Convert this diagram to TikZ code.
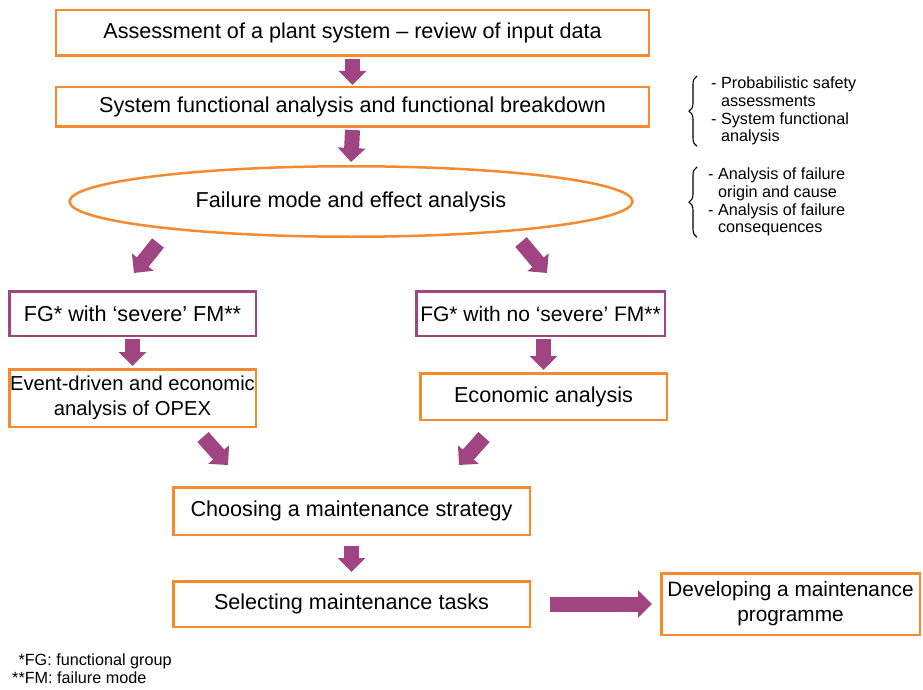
\documentclass[tikz,border=0pt]{standalone}
\usepackage{fontspec}
\setmainfont{Liberation Sans}
\usetikzlibrary{arrows.meta,positioning,shapes.geometric,decorations.pathreplacing}
\definecolor{boxorange}{RGB}{245,138,46}
\definecolor{arrowpurple}{RGB}{161,68,130}

\begin{document}
\begin{tikzpicture}[x=1pt,y=-1pt,
	every node/.style={font=\fontsize{21.6}{25}\selectfont, inner sep=0pt},
	obox/.style={draw=boxorange, line width=2.5pt, align=center},
	pbox/.style={draw=arrowpurple, line width=2.5pt, align=center},
	blk/.style={draw=arrowpurple, line width=15pt, -{Triangle[length=14pt,width=27pt]}},
	note/.style={font=\fontsize{16.2}{17.6}\selectfont, align=left, anchor=north west},
	brc/.style={decorate, decoration={brace, amplitude=8pt}, line width=1.1pt}]
	\useasboundingbox (0,0) rectangle (923,690);
	% main column
	\node[obox, minimum width=593pt, minimum height=45.5pt] (assess) at (352.5,33) {Assessment of a plant system -- review of input data};
	\node[obox, minimum width=593pt, minimum height=39.5pt] (sfa) at (352.5,107) {System functional analysis and functional breakdown};
	\node[obox, ellipse, minimum width=563pt, minimum height=70.5pt] (fmea) at (351,201.5) {Failure mode and effect analysis};
	% two branches
	\node[pbox, minimum width=246.5pt, minimum height=44.5pt] (fgsev) at (132.5,313.5) {FG* with ‘severe’ FM**};
	\node[pbox, minimum width=248.5pt, minimum height=44.5pt, font=\fontsize{21}{25}\selectfont] (fgnosev) at (540.5,313.5) {FG* with no ‘severe’ FM**};
	\node[obox, minimum width=246.5pt, minimum height=57.5pt, font=\fontsize{20.2}{24.5}\selectfont] (event) at (132.5,398) {Event-driven and economic\\analysis of OPEX};
	\node[obox, minimum width=246.5pt, minimum height=46.5pt] (econ) at (543.5,396.5) {Economic analysis};
	% strategy and tasks
	\node[obox, minimum width=356.5pt, minimum height=47.5pt] (strategy) at (351.5,511) {Choosing a maintenance strategy};
	\node[obox, minimum width=356.5pt, minimum height=45.5pt] (tasks) at (351.5,604) {Selecting maintenance tasks};
	\node[obox, minimum width=258.5pt, minimum height=61.5pt, font=\fontsize{20.8}{25}\selectfont] (programme) at (790.5,604) {Developing a maintenance\\programme};

	\draw[blk] ([yshift=-2pt]assess.south) -- ([yshift=1pt]sfa.north);
	\draw[blk] ([yshift=-2pt]sfa.south) -- ([yshift=3pt]fmea.north);
	\draw[blk] ([xshift=-193pt,yshift=-5pt]fmea.south) -- ([xshift=1.5pt,yshift=17pt]fgsev.north);
	\draw[blk] ([xshift=170pt,yshift=-4pt]fmea.south) -- ([xshift=6.5pt,yshift=17pt]fgnosev.north);
	\draw[blk] ([yshift=-2pt]fgsev.south) -- ([yshift=2pt]event.north);
	\draw[blk] ([yshift=-2pt]econ.north |- fgnosev.south) -- ([yshift=2pt]econ.north);
	\draw[blk] ([xshift=70.5pt,yshift=-9pt]event.south) -- ([xshift=-123.5pt,yshift=21pt]strategy.north);
	\draw[blk] ([xshift=-59.5pt,yshift=-16pt]econ.south) -- ([xshift=107.5pt,yshift=21pt]strategy.north);
	\draw[blk] ([yshift=-10pt]strategy.south) -- ([yshift=8pt]tasks.north);
	\draw[blk] ([xshift=19pt]tasks.east) -- ([xshift=-8pt]programme.west);

	% side notes
	\node[note] (psa) at (711,77) {- Probabilistic safety\\\phantom{- }assessments\\- System functional\\\phantom{- }analysis};
	\draw[brc] ([xshift=-14pt,yshift=-1pt]psa.south west) -- ([xshift=-14pt,yshift=1pt]psa.north west);
	\node[note] (origin) at (708,168) {- Analysis of failure\\\phantom{- }origin and cause\\- Analysis of failure\\\phantom{- }consequences};
	\draw[brc] ([xshift=-11pt,yshift=-1pt]origin.south west) -- ([xshift=-11pt,yshift=1pt]origin.north west);

	% footnotes
	\node[note, anchor=west] (foot) at (12,669) {\phantom{*}*FG: functional group\\**FM: failure mode};
\end{tikzpicture}
\end{document}
